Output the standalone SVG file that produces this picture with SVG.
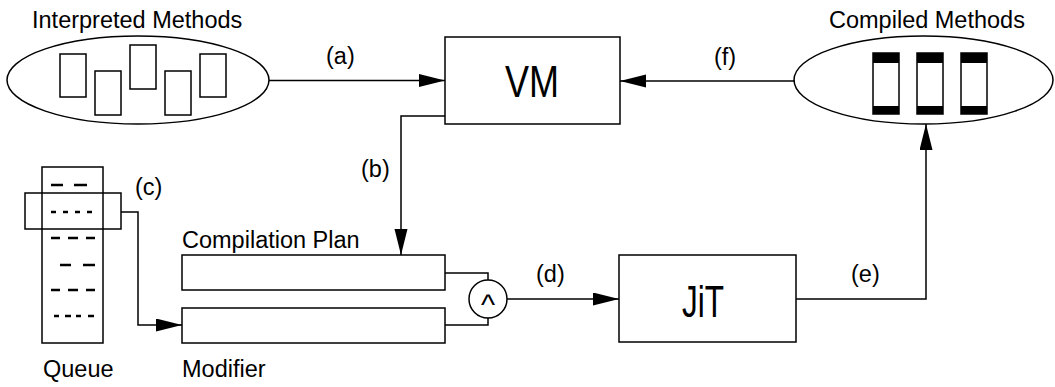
<svg xmlns="http://www.w3.org/2000/svg" width="1055" height="387" viewBox="0 0 1055 387">
<defs>
<style>
.s{fill:none;stroke:#000;stroke-width:1.5}
.w{fill:#fff;stroke:#000;stroke-width:1.5}
.t{font-family:"Liberation Sans",Arial,sans-serif;font-size:23.5px;fill:#000}
.d{stroke:#000;stroke-width:2.6;fill:none}
.b{fill:#000}
</style>
<marker id="ah" markerUnits="userSpaceOnUse" markerWidth="27" markerHeight="14" refX="26" refY="6.5" orient="auto">
<path d="M0,0 L26,6.5 L0,13 z" fill="#000"/>
</marker>
</defs>
<rect width="1055" height="387" fill="#fff"/>

<g id="connectors">
<path class="s" d="M269,80.5 H445" marker-end="url(#ah)"/>
<path class="s" d="M795,81 H620" marker-end="url(#ah)"/>
<path class="s" d="M445,116 H401 V255" marker-end="url(#ah)"/>
<path class="s" d="M121,212 H138 V325 H182" marker-end="url(#ah)"/>
<path class="s" d="M507,299 H619" marker-end="url(#ah)"/>
<path class="s" d="M796,299 H926 V124" marker-end="url(#ah)"/>
<path class="s" d="M445,273 H488 V280"/>
<path class="s" d="M445,325 H488 V318"/>
<text class="t" x="326" y="64">(a)</text>
<text class="t" x="361" y="177">(b)</text>
<text class="t" x="135" y="195">(c)</text>
<text class="t" x="536" y="282">(d)</text>
<text class="t" x="851" y="282">(e)</text>
<text class="t" x="714" y="65">(f)</text>
</g>

<g id="interpreted">
<ellipse class="s" cx="138" cy="80" rx="131" ry="44"/>
<rect class="s" x="60" y="54" width="26" height="43"/>
<rect class="s" x="95" y="71" width="26" height="44"/>
<rect class="s" x="130" y="45" width="26" height="44"/>
<rect class="s" x="165" y="71" width="26" height="44"/>
<rect class="s" x="200" y="54" width="26" height="43"/>
<text class="t" x="32" y="28">Interpreted Methods</text>
</g>

<g id="compiled">
<ellipse class="s" cx="923.5" cy="80" rx="129.5" ry="44"/>
<rect class="s" x="873" y="53" width="26" height="61"/>
<rect class="b" x="873" y="53" width="26" height="10"/>
<rect class="b" x="873" y="106" width="26" height="8"/>
<rect class="s" x="917" y="53" width="26" height="61"/>
<rect class="b" x="917" y="53" width="26" height="10"/>
<rect class="b" x="917" y="106" width="26" height="8"/>
<rect class="s" x="961" y="53" width="26" height="61"/>
<rect class="b" x="961" y="53" width="26" height="10"/>
<rect class="b" x="961" y="106" width="26" height="8"/>
<text class="t" x="829" y="28">Compiled Methods</text>
</g>

<g id="vm">
<rect class="w" x="445" y="37" width="175" height="87"/>
<text class="t" x="532" y="97" text-anchor="middle" style="font-size:44px" textLength="54" lengthAdjust="spacingAndGlyphs">VM</text>
</g>

<g id="jit">
<rect class="w" x="619" y="255" width="177" height="87"/>
<text class="t" x="703" y="317" text-anchor="middle" style="font-size:44px" textLength="42" lengthAdjust="spacingAndGlyphs">JiT</text>
</g>

<g id="queue">
<rect class="s" x="42" y="167" width="61" height="176"/>
<rect class="s" x="25" y="193" width="96" height="36"/>
<path class="d" d="M51,185 H63 M74,185 H87"/>
<path class="d" d="M51,212 H56 M63,212 H68 M75,212 H80 M87,212 H92"/>
<path class="d" d="M51,238 H60 M68,238 H78 M86,238 H95"/>
<path class="d" d="M60,265 H71 M83,265 H95"/>
<path class="d" d="M51,290 H60 M68,290 H78 M86,290 H95"/>
<path class="d" d="M54,316 H59 M65,316 H71 M76,316 H81 M88,316 H94"/>
<text class="t" x="43" y="377">Queue</text>
</g>

<g id="plan">
<rect class="w" x="182" y="255" width="263" height="35"/>
<text class="t" x="182" y="248">Compilation Plan</text>
</g>

<g id="modifier">
<rect class="w" x="182" y="308" width="263" height="35"/>
<text class="t" x="182" y="377">Modifier</text>
</g>

<g id="and">
<circle class="w" cx="488" cy="299" r="19"/>
<text class="t" x="488" y="315" text-anchor="middle" style="font-size:30px">^</text>
</g>
</svg>
